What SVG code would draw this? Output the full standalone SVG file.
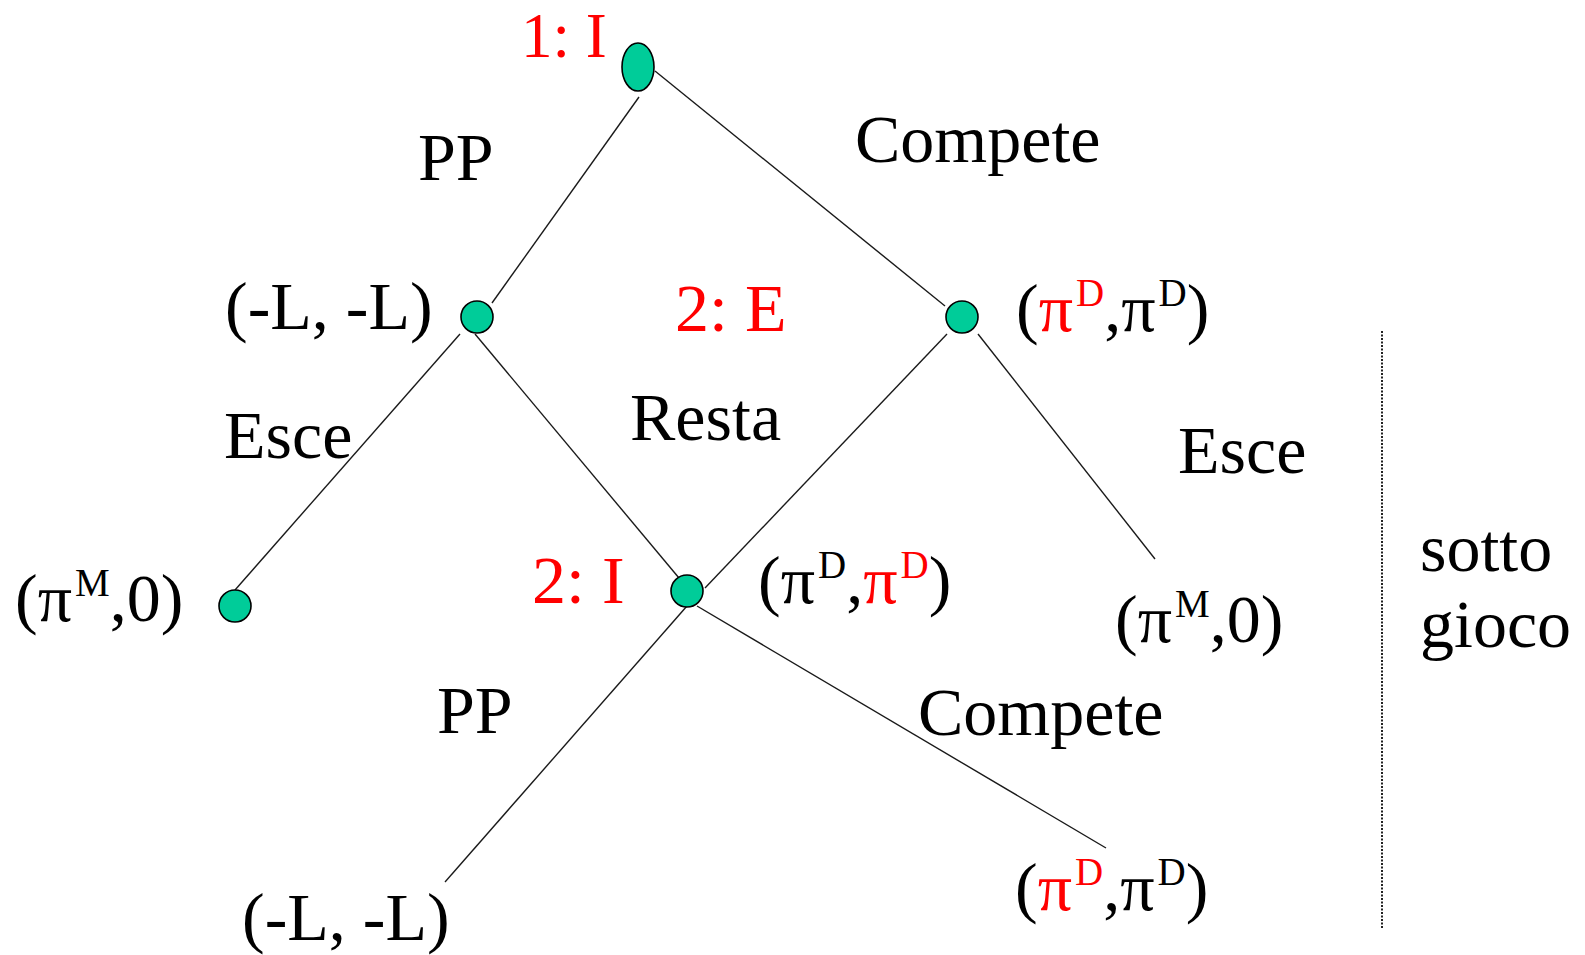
<svg xmlns="http://www.w3.org/2000/svg" width="1585" height="955" viewBox="0 0 1585 955">
<style>
text{font-family:"Liberation Serif","Times New Roman",serif;font-size:68px;fill:#000}
.r{fill:#ff0000}
.sup{font-size:39px}
.node{fill:#00cc99;stroke:#000;stroke-width:1.6}
.edge{stroke:#1a1a1a;stroke-width:1.4;fill:none}
.div{stroke:#222;stroke-width:2;stroke-dasharray:2 1.5;fill:none}
</style>
<rect width="1585" height="955" fill="#fff"/>
<g id="connectors">
<line class="edge" x1="639" y1="97" x2="492" y2="303"/>
<line class="edge" x1="655" y1="71" x2="945" y2="306"/>
<line class="edge" x1="460" y1="334" x2="235" y2="590"/>
<line class="edge" x1="475" y1="334" x2="679" y2="578"/>
<line class="edge" x1="947" y1="334" x2="705" y2="588"/>
<line class="edge" x1="978" y1="334" x2="1155" y2="559"/>
<line class="edge" x1="687" y1="606" x2="445" y2="882"/>
<line class="edge" x1="697" y1="606" x2="1106" y2="848"/>
<line class="div" x1="1382" y1="331" x2="1382" y2="928"/>
</g>
<g id="root">
<ellipse class="node" cx="638" cy="67" rx="16" ry="24"/>
<text class="r" x="521" y="57" style="font-size:63px">1: I</text>
</g>
<g id="n-left">
<circle class="node" cx="477" cy="317" r="16"/>
<text x="225" y="329">(-L, -L)</text>
</g>
<g id="n-right">
<circle class="node" cx="962" cy="317" r="16"/>
<text x="1016" y="331">(<tspan class="r">π</tspan><tspan class="sup r" dx="3" dy="-25">D</tspan><tspan dy="25">,π</tspan><tspan class="sup" dx="3" dy="-25">D</tspan><tspan dy="25">)</tspan></text>
</g>
<g id="leaf-left">
<circle class="node" cx="235" cy="606" r="16"/>
<text x="15" y="621">(π<tspan class="sup" dx="3" dy="-25">M</tspan><tspan dy="25">,0)</tspan></text>
</g>
<g id="n-mid">
<circle class="node" cx="687" cy="591" r="16"/>
<text class="r" x="532" y="603">2: I</text>
<text x="758" y="603">(π<tspan class="sup" dx="3" dy="-25">D</tspan><tspan dy="25">,</tspan><tspan class="r">π</tspan><tspan class="sup r" dx="3" dy="-25">D</tspan><tspan dy="25">)</tspan></text>
</g>
<g id="leaf-right">
<text x="1115" y="642">(π<tspan class="sup" dx="3" dy="-25">M</tspan><tspan dy="25">,0)</tspan></text>
</g>
<g id="leaf-bottom-left">
<text x="242" y="940">(-L, -L)</text>
</g>
<g id="leaf-bottom-right">
<text x="1015" y="910">(<tspan class="r">π</tspan><tspan class="sup r" dx="3" dy="-25">D</tspan><tspan dy="25">,π</tspan><tspan class="sup" dx="3" dy="-25">D</tspan><tspan dy="25">)</tspan></text>
</g>
<g id="labels">
<text x="418" y="180">PP</text>
<text x="855" y="162">Compete</text>
<text class="r" x="675" y="331">2: E</text>
<text x="224" y="458">Esce</text>
<text x="630" y="440">Resta</text>
<text x="1178" y="473">Esce</text>
<text x="437" y="733">PP</text>
<text x="918" y="735">Compete</text>
<text x="1420" y="571">sotto</text>
<text x="1420" y="647">gioco</text>
</g>
</svg>
